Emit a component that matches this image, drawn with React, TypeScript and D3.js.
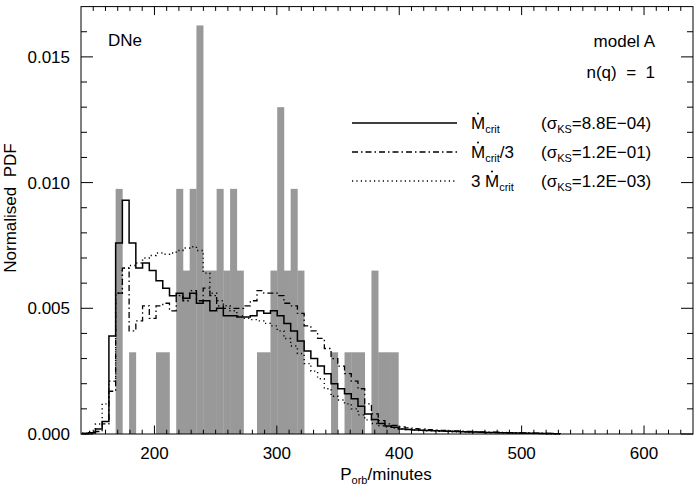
import React, { useRef, useEffect } from 'react';
import * as d3 from 'd3';

const WIDTH = 700;
const HEIGHT = 489;

// observed DNe, counts per bin (bin width in minutes)
const binWidth = 5.5;
const obsBinStart = 168.3;
const obsCounts = [
  3, 0, 1, 0, 0, 0, 1, 1, 0, 3,
  2, 3, 5, 2, 2, 3, 2, 3, 2, 0,
  0, 1, 1, 2, 4, 2, 3, 2, 0, 0,
  0, 0, 1, 0, 1, 1, 1, 0, 2, 1,
  1, 1,
];
const obsUnit = 0.00325; // PDF height of one system

// model PDFs, same bin width, starting at modelBinStart
const modelBinStart = 140.8;
const pdfMcrit = [
  0.00002, 0.00005, 0.0002, 0.0005, 0.0039, 0.0076, 0.0093, 0.0076, 0.0066, 0.0068,
  0.0065, 0.0061, 0.0058, 0.0055, 0.0056, 0.0054, 0.0056, 0.0052, 0.0053, 0.0049,
  0.0050, 0.0047, 0.0047, 0.00465, 0.00465, 0.0047, 0.0049, 0.0048, 0.0049, 0.0047,
  0.0044, 0.0041, 0.0037, 0.0033, 0.0030, 0.0027, 0.0024, 0.0020, 0.0018, 0.0016,
  0.0014, 0.0011, 0.0008, 0.00058, 0.00042, 0.00032, 0.00027, 0.0002, 0.00018, 0.00016,
  0.00015, 0.00014, 0.00013, 0.00012, 0.00011, 0.0001, 0.00009, 0.00008, 0.00008, 0.00007,
  0.00006, 0.00006, 0.00005, 0.00005, 0.00004, 0.00004, 0.00003, 0.00003, 0.00002, 0.00002, 0.00001,
];
const pdfMcritThird = [
  0.00002, 0.00004, 0.0001, 0.0004, 0.0017, 0.0056, 0.0066, 0.0041, 0.0045, 0.0051,
  0.0046, 0.0051, 0.0052, 0.0049, 0.0055, 0.0053, 0.0057, 0.0053, 0.0058, 0.0055,
  0.0051, 0.0050, 0.0050, 0.0050, 0.0051, 0.0053, 0.0057, 0.0056, 0.0056, 0.0055,
  0.0052, 0.0051, 0.0048, 0.0043, 0.0041, 0.0038, 0.0034, 0.0030, 0.0027, 0.0024,
  0.0021, 0.0018, 0.0012, 0.0008, 0.00053, 0.0004, 0.00034, 0.00028, 0.00024, 0.00021,
  0.00019, 0.00017, 0.00015, 0.00014, 0.00013, 0.00012, 0.00011, 0.0001, 0.00009, 0.00008,
  0.00007, 0.00007, 0.00006, 0.00005, 0.00005, 0.00004, 0.00004, 0.00003, 0.00003, 0.00002, 0.00001,
];
const pdfMcritTriple = [
  0.00003, 0.0001, 0.0004, 0.0012, 0.0021, 0.0056, 0.0066, 0.0067, 0.0068, 0.0070,
  0.0071, 0.0072, 0.00715, 0.0072, 0.0073, 0.0074, 0.00745, 0.0073, 0.0064, 0.0056,
  0.0053, 0.0051, 0.0049, 0.0047, 0.0046, 0.00455, 0.0045, 0.0044, 0.0043, 0.0041,
  0.0038, 0.0035, 0.0032, 0.0028, 0.0025, 0.0022, 0.0018, 0.0015, 0.00135, 0.0012,
  0.001, 0.00076, 0.00056, 0.00042, 0.00033, 0.00028, 0.00024, 0.0002, 0.00018, 0.00016,
  0.00014, 0.00013, 0.00012, 0.00011, 0.0001, 0.00009, 0.00008, 0.00007, 0.00007, 0.00006,
  0.00005, 0.00005, 0.00004, 0.00004, 0.00003, 0.00003, 0.00003, 0.00002, 0.00002, 0.00001, 0.00001,
];

const xMajorTicks = [200, 300, 400, 500, 600];
const yMajorTicks = [0, 0.005, 0.01, 0.015];
const legendNames = ['crit', 'crit/3', '3crit'];
const legendSigma = ['8.8E\u221204', '1.2E\u221201', '1.2E\u221203'];

export default function App() {
  const ref = useRef<SVGSVGElement>(null);

  useEffect(() => {
    if (!ref.current) return;
    const svg = d3.select(ref.current);
    svg.selectAll('*').remove();
    const font = "'Liberation Sans', Helvetica, Arial, sans-serif";
    const fs = 17;

    const x = d3.scaleLinear().domain([140, 640]).range([81, 693]);
    const y = d3.scaleLinear().domain([0, 0.017]).range([434, 6.6]);

    // observed histogram
    const bars = obsCounts
      .map((c, i) => ({ x0: obsBinStart + i * binWidth, v: c * obsUnit }))
      .filter(d => d.v > 0);
    svg.append('g')
      .selectAll('rect')
      .data(bars)
      .join('rect')
      .attr('x', d => x(d.x0))
      .attr('width', d => x(d.x0 + binWidth) - x(d.x0) + 0.3)
      .attr('y', d => y(d.v))
      .attr('height', d => y(0) - y(d.v))
      .attr('fill', '#999');

    // model step curves
    const step = d3.line<[number, number]>()
      .x(d => x(d[0]))
      .y(d => y(d[1]))
      .curve(d3.curveStepAfter);
    const stepPts = (vals: number[]) => {
      const pts: [number, number][] = vals.map((v, i) => [modelBinStart + i * binWidth, v]);
      pts.push([modelBinStart + vals.length * binWidth, 0]);
      return pts;
    };
    const styles = [
      { data: pdfMcrit, width: 1.5, dash: null },
      { data: pdfMcritThird, width: 1.3, dash: '6,3,1.5,3' },
      { data: pdfMcritTriple, width: 1.4, dash: '1.2,3.2' },
    ];
    styles.forEach(s => {
      svg.append('path')
        .attr('d', step(stepPts(s.data)))
        .attr('fill', 'none')
        .attr('stroke', '#000')
        .attr('stroke-width', s.width)
        .attr('stroke-dasharray', s.dash);
    });

    // frame
    const [x0, x1] = x.range();
    const [y0, y1] = y.range();
    svg.append('rect')
      .attr('x', x0).attr('y', y1)
      .attr('width', x1 - x0).attr('height', y0 - y1)
      .attr('fill', 'none').attr('stroke', '#000').attr('stroke-width', 1);

    const ticks = svg.append('g').attr('stroke', '#000').attr('stroke-width', 1);
    const xMinor = d3.range(150, 640, 10).filter(v => !xMajorTicks.includes(v));
    const yMinor = d3.range(1, 17).map(v => v / 1000).filter(v => Math.round(v * 1000) % 5 !== 0);
    const xt = [...xMajorTicks.map(v => ({ v, l: 8.5 })), ...xMinor.map(v => ({ v, l: 4.3 }))];
    xt.forEach(t => {
      ticks.append('line').attr('x1', x(t.v)).attr('x2', x(t.v)).attr('y1', y0).attr('y2', y0 - t.l);
      ticks.append('line').attr('x1', x(t.v)).attr('x2', x(t.v)).attr('y1', y1).attr('y2', y1 + t.l);
    });
    const yt = [...yMajorTicks.map(v => ({ v, l: 12 })), ...yMinor.map(v => ({ v, l: 6 }))];
    yt.forEach(t => {
      ticks.append('line').attr('x1', x0).attr('x2', x0 + t.l).attr('y1', y(t.v)).attr('y2', y(t.v));
      ticks.append('line').attr('x1', x1).attr('x2', x1 - t.l).attr('y1', y(t.v)).attr('y2', y(t.v));
    });

    const txt = svg.append('g')
      .style('font-family', font)
      .style('font-size', `${fs}px`)
      .attr('fill', '#000');

    txt.selectAll('.xl')
      .data(xMajorTicks)
      .join('text')
      .attr('x', d => x(d)).attr('y', 459)
      .attr('text-anchor', 'middle')
      .text(d => d3.format('d')(d));
    txt.selectAll('.yl')
      .data(yMajorTicks)
      .join('text')
      .attr('x', 70).attr('y', d => y(d) + 6)
      .attr('text-anchor', 'end')
      .text(d => d3.format('.3f')(d));

    // axis titles
    const xTitle = txt.append('text').attr('x', 386).attr('y', 480).attr('text-anchor', 'middle');
    xTitle.append('tspan').text('P');
    xTitle.append('tspan').attr('dy', 4).style('font-size', '11px').text('orb');
    xTitle.append('tspan').attr('dy', -4).text('/minutes');

    txt.append('text')
      .attr('transform', 'translate(16,208) rotate(-90)')
      .attr('text-anchor', 'middle')
      .style('white-space', 'pre')
      .text('Normalised  PDF');

    txt.append('text').attr('x', 108).attr('y', 46).text('DNe');
    txt.append('text').attr('x', 655).attr('y', 47).attr('text-anchor', 'end').text('model A');
    txt.append('text').attr('x', 655).attr('y', 78).attr('text-anchor', 'end')
      .style('white-space', 'pre').text('n(q)  =  1');

    // legend
    const rowY = [123, 152, 181];
    styles.forEach((s, i) => {
      const cy = rowY[i];
      svg.append('line')
        .attr('x1', 352).attr('x2', 457).attr('y1', cy).attr('y2', cy)
        .attr('stroke', '#000').attr('stroke-width', s.width)
        .attr('stroke-dasharray', s.dash);
      const base = cy + 6;
      const mx = legendNames[i] === '3crit' ? 485 : 471;
      if (legendNames[i] === '3crit') {
        txt.append('text').attr('x', 471).attr('y', base).text('3');
      }
      const t = txt.append('text').attr('x', mx).attr('y', base);
      t.append('tspan').text('M');
      t.append('tspan').attr('dy', 4).style('font-size', '11px').text('crit');
      if (legendNames[i] === 'crit/3') t.append('tspan').attr('dy', -4).text('/3');
      svg.append('circle').attr('cx', mx + 7).attr('cy', base - 15.5).attr('r', 1).attr('fill', '#000');

      const st = txt.append('text').attr('x', 541).attr('y', base);
      st.append('tspan').text('(\u03c3');
      st.append('tspan').attr('dy', 4).style('font-size', '11px').text('KS');
      st.append('tspan').attr('dy', -4).text(`=${legendSigma[i]})`);
    });
  }, []);

  return (
    <svg
      ref={ref}
      width={WIDTH}
      height={HEIGHT}
      style={{ position: 'absolute', left: 0, top: 0, background: '#fff' }}
    />
  );
}
